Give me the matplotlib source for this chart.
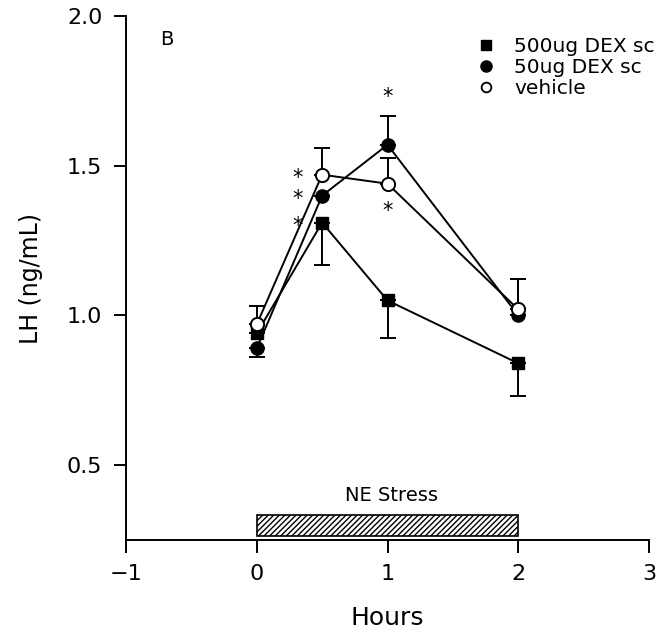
import matplotlib
matplotlib.use("Agg")
import matplotlib.pyplot as plt
from matplotlib.lines import Line2D

plt.rcParams['font.family'] = ['DejaVu Sans']

hours = [0, 0.5, 1, 2]

dex500 = [0.94, 1.31, 1.05, 0.84]
dex500_lo = [0.0, 0.14, 0.125, 0.11]
dex500_hi = [0.0, 0.0, 0.0, 0.0]

dex50 = [0.89, 1.40, 1.57, 1.00]
dex50_lo = [0.03, 0.0, 0.0, 0.0]
dex50_hi = [0.0, 0.0, 0.095, 0.12]

vehicle = [0.97, 1.47, 1.44, 1.02]
vehicle_lo = [0.0, 0.0, 0.0, 0.0]
vehicle_hi = [0.06, 0.09, 0.085, 0.10]

star_x = [0.31, 0.31, 0.31, 1.0, 1.0]
star_y = [1.46, 1.39, 1.30, 1.73, 1.35]

labels = ["500ug DEX sc", "50ug DEX sc", "vehicle"]
xticks = [-1, 0, 1, 2, 3]
yticks = [0.5, 1.0, 1.5, 2.0]

fig = plt.figure(figsize=(6.7, 6.32), dpi=100)
ax = fig.add_axes([126/670, 1-540/632, (649-126)/670, (540-16)/632])

for vals, lo, hi in [(vehicle, vehicle_lo, vehicle_hi), (dex50, dex50_lo, dex50_hi),
                     (dex500, dex500_lo, dex500_hi)]:
    ax.errorbar(hours, vals, yerr=[lo, hi], fmt='none', ecolor='black',
                elinewidth=1.4, capsize=6, capthick=1.4, zorder=2)

ax.plot(hours, dex500, color='black', lw=1.4, marker='s', ms=8.5, mfc='black', mec='black', zorder=3)
ax.plot(hours, dex50, color='black', lw=1.4, marker='o', ms=9.5, mfc='black', mec='black', zorder=3)
ax.plot(hours, vehicle, color='black', lw=1.4, marker='o', ms=9.5, mfc='white', mec='black', mew=1.4, zorder=4)

for sx, sy in zip(star_x, star_y):
    ax.text(sx, sy, '*', ha='center', va='center', fontsize=15)

# NE stress bar
ax.bar(1.0, 0.072, bottom=0.262, width=2.0, facecolor='white', edgecolor='black',
       hatch='//////', lw=1.2, zorder=2)
ax.text(1.03, 0.40, 'NE Stress', ha='center', va='center', fontsize=14)

ax.text(0.065, 0.955, 'B', transform=ax.transAxes, fontsize=14, ha='left', va='center')

handles = [
    Line2D([], [], ls='none', marker='s', ms=7, mfc='black', mec='black'),
    Line2D([], [], ls='none', marker='o', ms=8, mfc='black', mec='black'),
    Line2D([], [], ls='none', marker='o', ms=7, mfc='white', mec='black', mew=1.3),
]
ax.legend(handles, labels, loc='upper right', bbox_to_anchor=(1.045, 0.995), frameon=False,
          fontsize=14.5, handlelength=1.0, handletextpad=0.9, labelspacing=0.1)

ax.set_xlim(-1, 3)
ax.set_ylim(0.25, 2.0)
ax.set_xticks(xticks)
ax.set_yticks(yticks)
ax.set_xticklabels(['\u22121', '0', '1', '2', '3'])
ax.set_yticklabels(['0.5', '1.0', '1.5', '2.0'])
ax.spines['top'].set_visible(False)
ax.spines['right'].set_visible(False)
for s in ['left', 'bottom']:
    ax.spines[s].set_linewidth(1.4)
ax.tick_params(direction='out', length=9, width=1.4, labelsize=16, pad=8)
ax.set_xlabel('Hours', fontsize=18, labelpad=16)
ax.set_ylabel('LH (ng/mL)', fontsize=17, labelpad=17)

fig.savefig('out.png', dpi=100)
